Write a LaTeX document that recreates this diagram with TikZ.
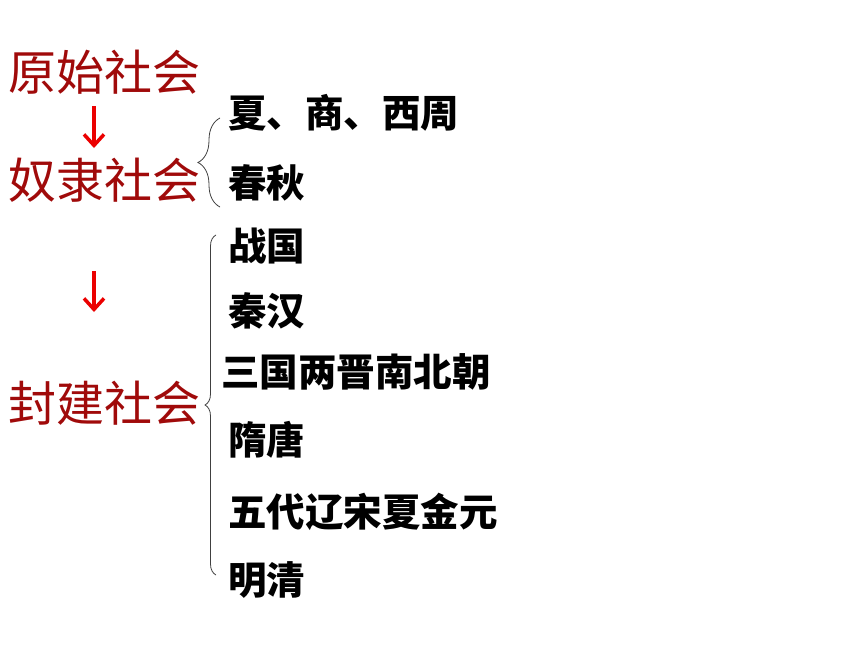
\documentclass[tikz,border=0pt]{standalone}
\usepackage{fontspec}
\usepackage{xcolor}
\usepackage{tikz}
\usetikzlibrary{arrows.meta,decorations.pathreplacing}
\newfontfamily\cjk{Noto Sans CJK SC}
\definecolor{erared}{RGB}{160,10,10}
\definecolor{arrowred}{RGB}{235,0,0}
\tikzset{
	era/.style={font=\cjk\fontsize{48}{48}\selectfont, text=erared, anchor=west, inner sep=0pt},
	dynasty/.style={font=\cjk\bfseries\fontsize{38.5}{38.5}\selectfont, anchor=west, inner sep=0pt},
	bracket/.style={decorate, decoration={brace, amplitude=#1}, draw=black!75, line width=0.8pt},
	down/.style={-{Straight Barb[length=11pt,width=20pt]}, draw=arrowred, line width=3.5pt}
}

\begin{document}
\begin{tikzpicture}[x=1pt, y=-1pt]
	\useasboundingbox (0,0) rectangle (860,645);

	\node[era] (yuanshi) at (8, 72) {原始社会};
	\node[era] (nuli) at (8, 180) {奴隶社会};
	\node[era] (fengjian) at (8, 403) {封建社会};

	\node[dynasty] (xia) at (228, 113) {夏、商、西周};
	\node[dynasty] (chunqiu) at (228, 183) {春秋};
	\node[dynasty] (zhanguo) at (228, 246) {战国};
	\node[dynasty] (qinhan) at (228, 311) {秦汉};
	\node[dynasty] (sanguo) at (221, 372) {三国两晋南北朝};
	\node[dynasty] (suitang) at (228, 440) {隋唐};
	\node[dynasty] (wudai) at (228, 512) {五代辽宋夏金元};
	\node[dynasty] (mingqing) at (228, 580) {明清};

	\coordinate (a1) at (94, 106);
	\coordinate (b1) at (94, 148);
	\coordinate (a2) at (94, 271);
	\coordinate (b2) at (94, 312);
	\draw[down] (a1) -- (b1);
	\draw[down] (a2) -- (b2);

	\draw[bracket=22] (220, 207) -- (220, 118);
	\draw[bracket=11] (216, 575) -- (216, 235);
\end{tikzpicture}
\end{document}
